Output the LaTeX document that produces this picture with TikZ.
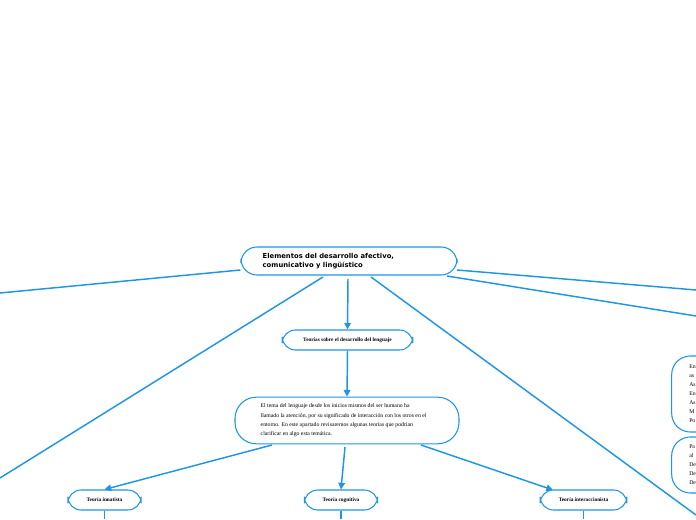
\documentclass[tikz,border=0pt]{standalone}
\usepackage{fontspec}
\setmainfont{Liberation Serif}
\newfontfamily\hd{DejaVu Sans}
\usetikzlibrary{arrows.meta}
\definecolor{bl}{RGB}{30,150,228}
\begin{document}
\begin{tikzpicture}[x=0.75pt,y=-0.75pt,
 box/.style={draw=bl,line width=0.8pt,rounded corners=10pt,fill=white,inner sep=0pt},
 ln/.style={draw=bl,line width=1.1pt},
 ar/.style={ln,-{Triangle[width=5pt,length=5pt]}}]
\useasboundingbox (0,0) rectangle (696,520);
\clip (0,0) rectangle (696,520);
\node[box,minimum width=162pt,minimum height=21pt,rounded corners=12pt] (m) at (349,261) {};
\node[anchor=west,align=left,font=\hd\bfseries\fontsize{5.1}{6.3}\selectfont] at (258,261) {Elementos del desarrollo afectivo,\\comunicativo y lingüístico};
\node[box,minimum width=98pt,minimum height=15pt,font=\bfseries\fontsize{4}{5}\selectfont] (t) at (347.5,340) {Teorías sobre el desarrollo del lenguaje};
\node[box,minimum width=168pt,minimum height=35pt,rounded corners=16pt] (p) at (347,420.5) {};
\node[anchor=west,align=left,font=\fontsize{4.3}{7}\selectfont] at (256,420.5) {El tema del lenguaje desde los inicios mismos del ser humano ha\\llamado la atención, por su significado de interacción con los otros en el\\entorno. En este apartado revisaremos algunas teorías que podrían\\clarificar en algo esta temática.};
\node[box,minimum width=55pt,minimum height=15pt,font=\bfseries\fontsize{4}{5}\selectfont] (a) at (104.5,500) {Teoría innatista};
\node[box,minimum width=55pt,minimum height=15pt,font=\bfseries\fontsize{4}{5}\selectfont] (b) at (341,500) {Teoría cognitiva};
\node[box,minimum width=65pt,minimum height=15pt,font=\bfseries\fontsize{4}{5}\selectfont] (c) at (583.5,500) {Teoría interaccionista};
\node[box,minimum width=50pt,minimum height=57pt,rounded corners=14pt] (r1) at (705,394) {};
\node[box,minimum width=50pt,minimum height=42pt,rounded corners=14pt] (r2) at (705,465) {};
\node[anchor=north west,align=left,inner sep=0pt,font=\fontsize{4.3}{6.8}\selectfont] at (689,364) {En\\as\\As\\En\\As\\M\\Po};
\node[anchor=north west,align=left,inner sep=0pt,font=\fontsize{4.3}{6.8}\selectfont] at (689,444) {Pa\\al\\De\\De\\De};
\draw[ln] (m.west) ++(0,9) -- (0,293);
\draw[ln] (323,277) -- (0,478);
\draw[ln] (371,277) -- (696,515);
\draw[ln] (457,270) -- (696,290);
\draw[ln] (447,276) -- (696,316);
\draw[ar] (348,279) -- (t.north);
\draw[ar] (t.south) -- (p.north);
\draw[ar] (272,445) -- (a.north);
\draw[ar] (345,447) -- (b.north);
\draw[ar] (421,445) -- (553,490);
\draw[ln] (a.south) -- ++(0,8);
\draw[ln] (b.south) -- ++(0,8);
\draw[ln] (c.south) -- ++(0,8);
\end{tikzpicture}
\end{document}
